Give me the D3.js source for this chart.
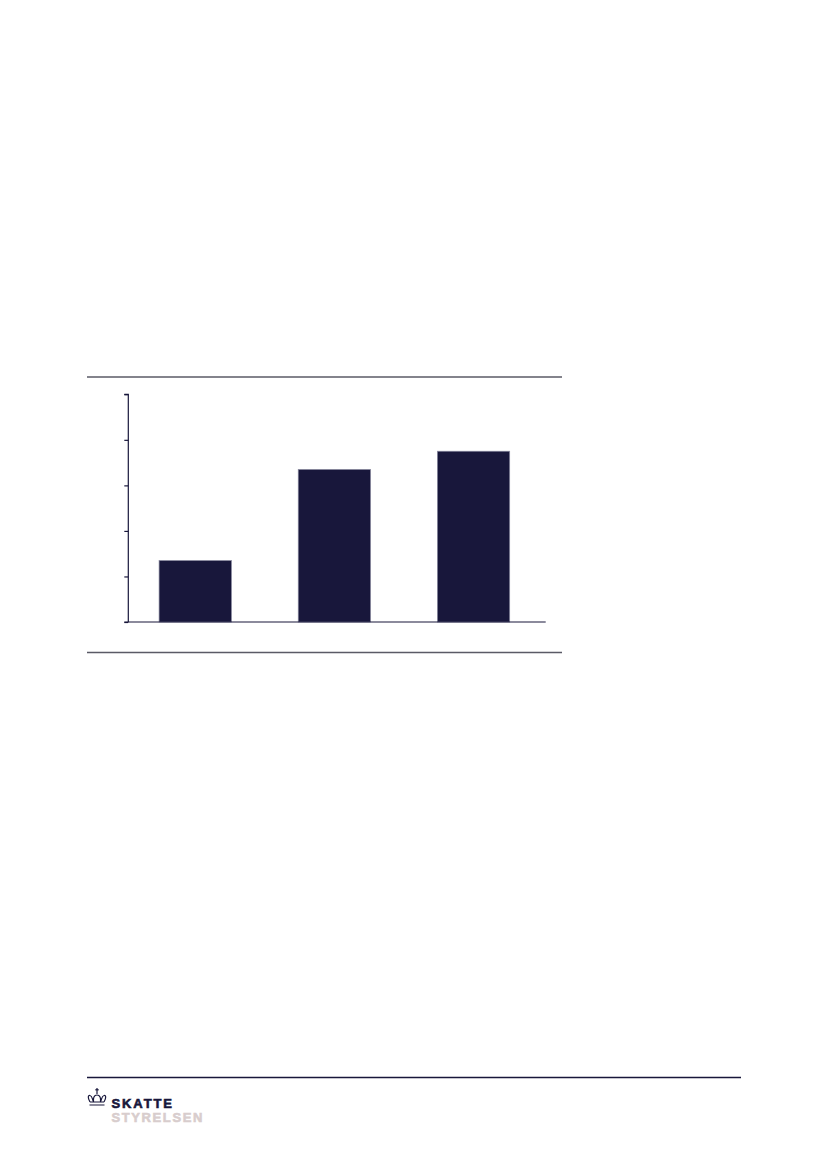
<!DOCTYPE html>
<html><head><meta charset="utf-8">
<script src="https://cdn.jsdelivr.net/npm/d3@7"></script>
<style>body{margin:0;background:#fff}svg{display:block}</style>
</head><body>
<script>
const categories = ["A", "B", "C"];
const values = [27, 67, 75];
const yTicks = [0, 20, 40, 60, 80, 100];

const W = 827, H = 1169;
const svg = d3.select("body").append("svg").attr("width", W).attr("height", H);

// frame rules
svg.append("line").attr("x1", 87).attr("x2", 562).attr("y1", 377).attr("y2", 377)
  .attr("stroke", "#5a5a66").attr("stroke-width", 1.3);
svg.append("line").attr("x1", 87).attr("x2", 562).attr("y1", 652.5).attr("y2", 652.5)
  .attr("stroke", "#5a5a66").attr("stroke-width", 1.3);

const x0 = 128.3, x1 = 545.7, yTop = 394.3, yBot = 622;
const x = d3.scaleBand().domain(categories).range([x0 - 2.6, x1 - 2.6]).paddingInner(0.48).paddingOuter(0.24);
const y = d3.scaleLinear().domain([0, 100]).range([yBot, yTop]);

svg.selectAll("rect.bar").data(values).enter().append("rect")
  .attr("class", "bar")
  .attr("x", (d, i) => x(categories[i]))
  .attr("width", x.bandwidth())
  .attr("y", d => y(d))
  .attr("height", d => yBot - y(d))
  .attr("fill", "#18173b")
  .attr("stroke", "#8a8aa0").attr("stroke-width", 0.7);

const yAxis = d3.axisLeft(y).tickValues(yTicks).tickSize(4).tickFormat("");
const ga = svg.append("g").attr("transform", `translate(${x0},0)`).call(yAxis);
ga.selectAll("path,line").attr("stroke", "#18173b").attr("stroke-width", 1.2);
ga.select(".domain").attr("d", `M-4,${yTop}H0V${yBot}`);

svg.append("line").attr("x1", x0 - 4).attr("x2", x1).attr("y1", yBot).attr("y2", yBot)
  .attr("stroke", "#18173b").attr("stroke-width", 1.2);

// footer
svg.append("line").attr("x1", 87).attr("x2", 741).attr("y1", 1077.5).attr("y2", 1077.5)
  .attr("stroke", "#18173b").attr("stroke-width", 1.3);

// crown icon
const cg = svg.append("g").attr("transform", "translate(87.5,1088)").attr("fill", "none")
  .attr("stroke", "#18173b").attr("stroke-width", 1.2);
cg.append("line").attr("x1", 9.5).attr("x2", 9.5).attr("y1", 0).attr("y2", 6);
cg.append("line").attr("x1", 7.8).attr("x2", 11.2).attr("y1", 1.8).attr("y2", 1.8);
cg.append("path").attr("d", "M2.5,14 C0,10 0.5,7 2.5,7.5 C5,8 4.5,11 6,14 M6,14 C5.5,10 6.5,7 9.5,7 C12.5,7 13.5,10 13,14 M13,14 C14.5,11 14,8 16.5,7.5 C18.5,7 19,10 16.5,14");
cg.append("path").attr("d", "M2.5,14 H16.5 M2,17 H17");

svg.append("text").attr("x", 111.5).attr("y", 1107.5).text("SKATTE")
  .attr("font-family", "Liberation Sans, Arial, sans-serif").attr("font-weight", "bold")
  .attr("font-size", 13).attr("fill", "#18173b").attr("stroke", "#18173b").attr("stroke-width", 0.6)
  .attr("letter-spacing", 1.9);
svg.append("text").attr("x", 111.5).attr("y", 1121.5).text("STYRELSEN")
  .attr("font-family", "Liberation Sans, Arial, sans-serif").attr("font-weight", "bold")
  .attr("font-size", 13).attr("fill", "#d8cdcd").attr("stroke", "#d8cdcd").attr("stroke-width", 0.6)
  .attr("letter-spacing", 1.6);
</script>
</body></html>
